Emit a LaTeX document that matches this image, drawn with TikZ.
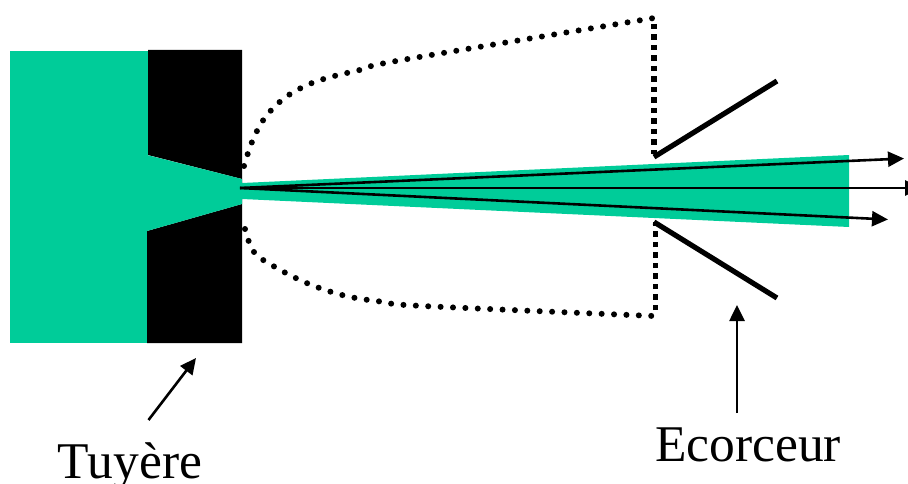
\documentclass[tikz,border=0pt]{standalone}
\usepackage{fontspec}
\setmainfont{Liberation Serif}
\usetikzlibrary{arrows.meta}
\tikzset{
  px/.style={x=1pt,y=-1pt},
  dots/.style={line width=6pt,dash pattern=on 0pt off 12.4pt,line cap=round},
  sqdots/.style={line width=5.5pt,dash pattern=on 5.5pt off 5pt},
  skim/.style={line width=5.2pt},
  ray/.style={line width=2.6pt,-{Triangle[length=16pt,width=15pt]}},
  lab/.style={font=\fontsize{51.5}{53}\selectfont,inner sep=0pt,anchor=base},
  pointer/.style={line width=2.6pt,-{Triangle[length=16pt,width=15pt]}}
}
\definecolor{jet}{RGB}{0,204,153}
\begin{document}
\begin{tikzpicture}[px]
\useasboundingbox (0,0) rectangle (908,484);
\fill[jet] (10,51) rectangle (148,343);
\fill[black] (148,50) -- (242,50) -- (242,343) -- (147,343) -- (147,231) -- (242,204) -- (242,179) -- (148,155) -- cycle;
\fill[jet] (147,155) -- (242,179) -- (242,183) -- (849,155) -- (849,227) -- (242,199) -- (242,204) -- (147,231) -- cycle;
\coordinate (o) at (240,188);
\coordinate (e1) at (904,158.5);
\coordinate (e2) at (921,188);
\coordinate (e3) at (888,219.5);
\draw[ray] (o) -- (e1);
\draw[ray] (o) -- (e2);
\draw[ray] (o) -- (e3);
\draw[dots] plot[smooth,tension=0.6] coordinates {(244,166) (252,142) (264,119) (282,100) (303,87) (327,78) (364,69) (402,60) (654,18)};
\draw[sqdots] (654,24) -- (654,154);
\draw[dots] plot[smooth,tension=0.6] coordinates {(245,229) (254,252) (275,267) (309,284) (346,296) (384,302) (423,306) (654,316)};
\draw[sqdots] (655.5,310) -- (655.5,222);
\draw[skim] (654,157) -- (777,81);
\draw[skim] (654,222) -- (777,298);
\node[lab] (t) at (130,478) {Tuyère};
\node[lab] (e) at (748,461) {Ecorceur};
\coordinate (ta) at (148.5,420);
\coordinate (tb) at (196,358);
\coordinate (ea) at (737,413);
\coordinate (eb) at (737,305);
\draw[pointer] (ta) -- (tb);
\draw[pointer] (ea) -- (eb);
\end{tikzpicture}
\end{document}
